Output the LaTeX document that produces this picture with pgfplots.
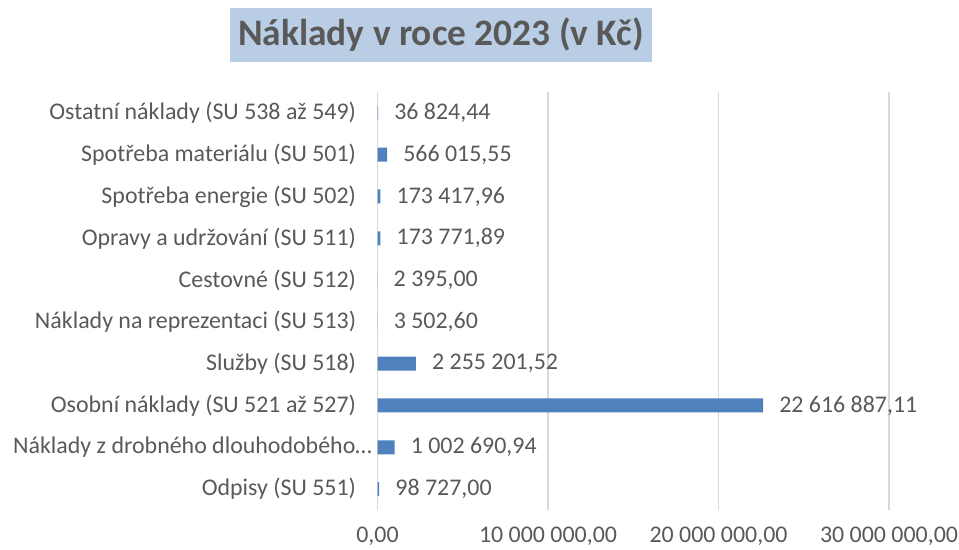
\documentclass[border=0pt]{standalone}
\usepackage{pgfplots}
\pgfplotsset{compat=1.18}
\usepackage{fontspec}
\setmainfont{Carlito}
\definecolor{barc}{HTML}{4F81BD}
\definecolor{txt}{HTML}{595959}
\definecolor{gridc}{HTML}{D9D9D9}
\definecolor{titlebg}{HTML}{B9CDE5}
\begin{document}
\begin{tikzpicture}[x=1bp,y=1bp]
\path[use as bounding box] (0,0) rectangle (959,550);
\node[fill=titlebg, text=txt, minimum width=422bp, minimum height=54bp, inner sep=0pt,
  font=\fontsize{37.5}{40}\selectfont\bfseries] at (441,515) {Náklady v roce 2023 (v Kč)};
\begin{axis}[
  at={(377.5bp,40bp)}, anchor=south west,
  scale only axis, width=511.5bp, height=418bp,
  xmin=0, xmax=30000000,
  ymin=-0.5, ymax=9.5, y dir=reverse,
  xtick={0,10000000,20000000,30000000},
  xticklabels={{0,00},{10 000 000,00},{20 000 000,00},{30 000 000,00}},
  scaled x ticks=false,
  ytick={0,1,2,3,4,5,6,7,8,9},
  yticklabels={{Ostatní náklady (SU 538 až 549)},{Spotřeba materiálu (SU 501)},{Spotřeba energie (SU 502)},{Opravy a udržování (SU 511)},{Cestovné (SU 512)},{Náklady na reprezentaci (SU 513)},{Služby (SU 518)},{Osobní náklady (SU 521 až 527)},{Náklady z drobného dlouhodobého…\hspace*{-16bp}},{Odpisy (SU 551)}},
  xmajorgrids, grid style={draw=gridc, line width=1.2bp},
  axis line style={draw=none},
  major tick length=0pt,
  xticklabel style={font=\fontsize{24}{26}\selectfont, text=txt, anchor=north, yshift=-13bp},
  yticklabel style={font=\fontsize{24}{26}\selectfont, text=txt, anchor=east, xshift=-18bp},
  xbar, bar width=14bp,
  point meta=explicit symbolic,
  nodes near coords,
  nodes near coords style={font=\fontsize{24}{26}\selectfont, text=txt, anchor=west, inner sep=0pt, xshift=16bp},
  clip=false,
]
\addplot[fill=barc, draw=none] coordinates {
  (36824.44,0) [36 824,44]
  (566015.55,1) [566 015,55]
  (173417.96,2) [173 417,96]
  (173771.89,3) [173 771,89]
  (2395.00,4) [2 395,00]
  (3502.60,5) [3 502,60]
  (2255201.52,6) [2 255 201,52]
  (22616887.11,7) [22 616 887,11]
  (1002690.94,8) [1 002 690,94]
  (98727.00,9) [98 727,00]
};
\end{axis}
\end{tikzpicture}
\end{document}
